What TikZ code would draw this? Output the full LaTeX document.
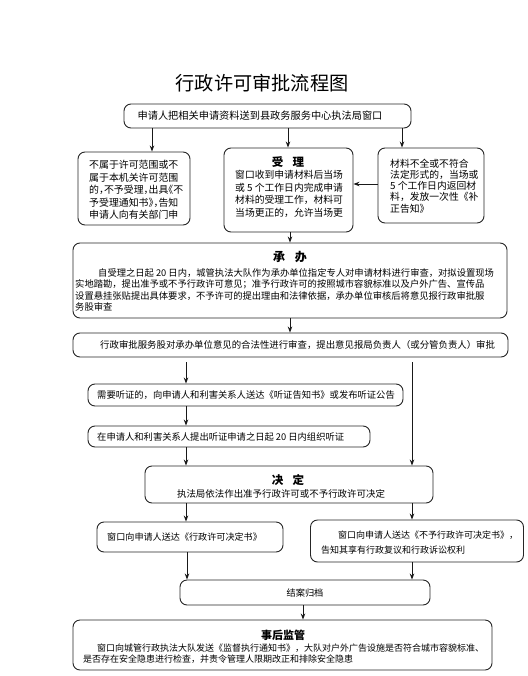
\documentclass[tikz,border=0pt]{standalone}
\usepackage{fontspec}
\setmainfont{Noto Sans CJK SC}
\newfontfamily\cjkhalt{Noto Sans CJK SC}[RawFeature=+halt]
\usetikzlibrary{arrows.meta}
\newcommand\fsz[2]{\fontsize{#1}{#2}\selectfont}
\begin{document}
\begin{tikzpicture}[x=1pt,y=-1pt,
  box/.style={draw=black!85, line width=0.9pt, rounded corners=7pt, inner sep=0pt},
  txt/.style={inner sep=0pt, align=left, anchor=north west},
  lbl/.style={inner sep=0pt},
  ttl/.style={inner sep=0pt, font=\bfseries\fsz{11.5}{12}},
  arr/.style={-{Stealth[length=6pt,width=4.5pt]}, line width=0.9pt, draw=black!90},
]
\useasboundingbox[fill=white] (0,0) rectangle (527,676);

% title
\node[lbl, font=\fsz{19.2}{20}] (title) at (262,83) {行政许可审批流程图};

% boxes
\node[box, minimum width=287pt, minimum height=24pt] (b1) at (267.5,116) {};
\node[box, minimum width=112pt, minimum height=73pt] (bl) at (134,188.5) {};
\node[box, minimum width=129pt, minimum height=84pt] (bm) at (288.5,190) {};
\node[box, minimum width=106pt, minimum height=75pt] (br) at (431,185.5) {};
\node[box, minimum width=434pt, minimum height=75pt] (cb) at (290,280.5) {};
\node[box, minimum width=435pt, minimum height=24pt] (sp) at (290.5,345) {};
\node[box, minimum width=315pt, minimum height=22pt] (tz1) at (245.5,395) {};
\node[box, minimum width=282pt, minimum height=21pt] (tz2) at (229,436.5) {};
\node[box, minimum width=288pt, minimum height=37pt] (jd) at (289,484.5) {};
\node[box, minimum width=186pt, minimum height=30pt] (dl) at (190,537) {};
\node[box, minimum width=213pt, minimum height=42pt] (dr) at (417,541) {};
\node[box, minimum width=250pt, minimum height=25pt] (ja) at (305,592.5) {};
\node[box, minimum width=419pt, minimum height=50pt] (sh) at (282.5,645) {};

% texts
\node[lbl, font=\fsz{10.2}{12}] (t1) at (260,116) {申请人把相关申请资料送到县政务服务中心执法局窗口};

\node[txt, font=\cjkhalt\fsz{9.9}{12.5}] (tl) at (89,160.3) {不属于许可范围或不\\属于本机关许可范围\\的，不予受理，出具《不\\予受理通知书》，告知\\申请人向有关部门申};

\node[ttl] (tmh) at (288,162.5) {受\hspace{0.8em}理};
\node[txt, font=\fsz{9.8}{12.9}] (tm) at (235,169.7) {窗口收到申请材料后当场\\或 5 个工作日内完成申请\\材料的受理工作，材料可\\当场更正的，允许当场更};

\node[txt, font=\fsz{9.8}{11.2}] (tr) at (390,158.7) {材料不全或不符合\\法定形式的，当场或\\5 个工作日内返回材\\料，发放一次性《补\\正告知》};

\node[ttl, font=\bfseries\fsz{12}{13}] (tch) at (290,257) {承\hspace{0.8em}办};
\node[txt, font=\fsz{9.3}{11.2}] (tc) at (75,268.7) {\hspace*{23pt}自受理之日起 20 日内，城管执法大队作为承办单位指定专人对申请材料进行审查，对拟设置现场\\实地踏勘，提出准予或不予行政许可意见；准予行政许可的按照城市容貌标准以及户外广告、宣传品\\设置悬挂张贴提出具体要求，不予许可的提出理由和法律依据，承办单位审核后将意见报行政审批服\\务股审查};

\node[lbl, anchor=west, font=\fsz{9.4}{11}] (tsp) at (100,345) {行政审批服务股对承办单位意见的合法性进行审查，提出意见报局负责人（或分管负责人）审批};

\node[lbl, anchor=west, font=\fsz{9.3}{11}] (ttz1) at (97,395) {需要听证的，向申请人和利害关系人送达《听证告知书》或发布听证公告};
\node[lbl, anchor=west, font=\fsz{9.3}{11}] (ttz2) at (97,436.5) {在申请人和利害关系人提出听证申请之日起 20 日内组织听证};

\node[ttl] (tjh) at (288,480) {决\hspace{0.8em}定};
\node[lbl, font=\fsz{9.45}{11}] (tj) at (281,494) {执法局依法作出准予行政许可或不予行政许可决定};

\node[lbl, anchor=west, font=\fsz{9.1}{11}] (tdl) at (107,537) {窗口向申请人送达《行政许可决定书》};
\node[txt, font=\fsz{9}{15}] (tdr) at (321,530.7) {\hspace*{17pt}窗口向申请人送达《不予行政许可决定书》，\\告知其享有行政复议和行政诉讼权利};

\node[lbl, font=\fsz{9.2}{11}] (tja) at (305,592.5) {结案归档};

\node[ttl, font=\bfseries\fsz{11}{12}] (tshh) at (283,635) {事后监管};
\node[txt, font=\fsz{9}{10.7}] (tsh) at (83,643.7) {\hspace*{14pt}窗口向城管行政执法大队发送《监督执行通知书》，大队对户外广告设施是否符合城市容貌标准、\\是否存在安全隐患进行检查，并责令管理人限期改正和排除安全隐患};

% connectors
\draw[arr] (b1.south -| 152,0) -- (bl.north -| 152,0);
\draw[arr] (b1.south -| 288,0) -- (bm.north -| 288,0);
\draw[arr] (b1.south -| 402,0) -- (br.north -| 402,0);
\draw[arr] (br.west |- 0,184) -- (bm.east |- 0,184);
\draw[arr] (bm.south -| 290,0) -- (cb.north -| 290,0);
\draw[arr] (cb.south -| 290,0) -- (sp.north -| 290,0);
\coordinate (a1) at (186,362);
\coordinate (a2) at (412,362);
\draw[arr] (a1) -- (tz1.north -| a1);
\draw[arr] (a2) -- (jd.north -| a2);
\draw[arr] (tz1.south -| a1) -- (tz2.north -| a1);
\draw[arr] (tz2.south -| a1) -- (jd.north -| a1);
\draw[arr] (jd.south -| a1) -- (dl.north -| a1);
\draw[arr] (jd.south -| a2) -- (dr.north -| a2);
\draw[arr] (dl.south -| 187,0) -- (ja.north -| 187,0);
\draw[arr] (dr.south -| a2) -- (ja.north -| a2);
\draw[arr] (ja.south -| 303,0) -- (sh.north -| 303,0);
\end{tikzpicture}
\end{document}
